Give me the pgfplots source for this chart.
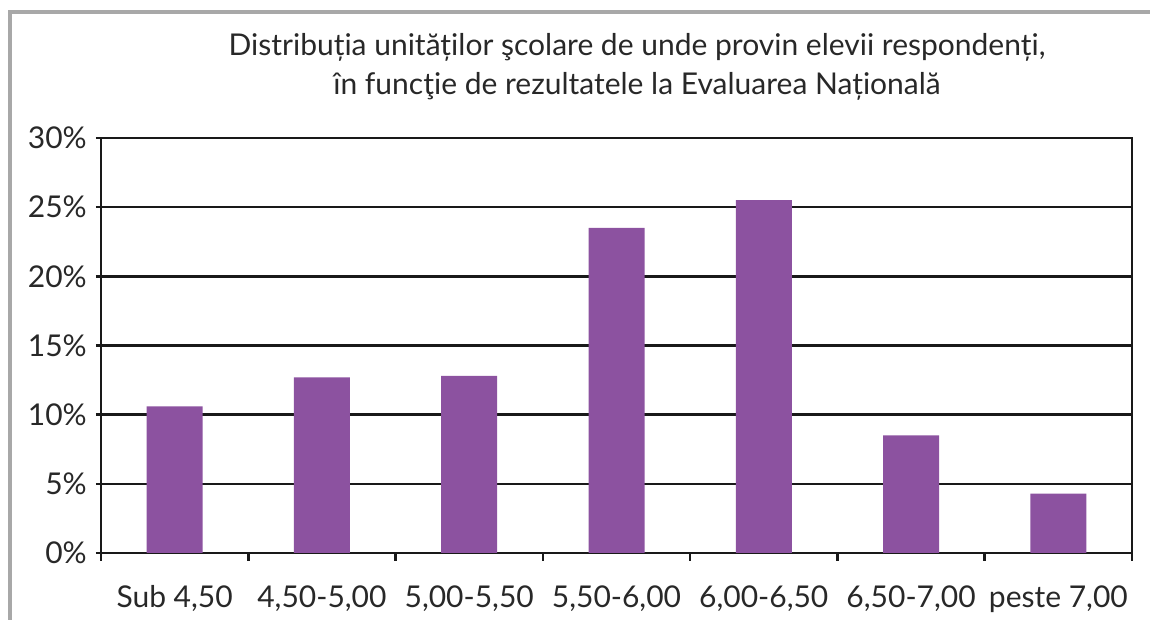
\documentclass[border=0pt]{standalone}
\usepackage{pgfplots}
\pgfplotsset{compat=1.18}
\usepackage{fontspec}
\setmainfont{Lato}
\definecolor{barpurple}{RGB}{140,82,160}
\definecolor{txt}{RGB}{40,40,40}
\definecolor{frame}{RGB}{168,168,168}
\begin{document}
\begin{tikzpicture}
\useasboundingbox (0pt,0pt) rectangle (575pt,310pt);
\draw[frame,line width=1.6pt] (5pt,0pt) -- (5pt,304pt) -- (575pt,304pt);
\node[txt,font=\fontsize{15}{18}\selectfont,anchor=base] at (318.5pt,282pt) {Distribuția unităților şcolare de unde provin elevii respondenți,};
\node[txt,font=\fontsize{15}{18}\selectfont,anchor=base] at (318.5pt,262.5pt) {în funcţie de rezultatele la Evaluarea Națională};
\begin{axis}[
  at={(50.5pt,33.5pt)}, anchor=south west,
  scale only axis, width=515.5pt, height=207.5pt,
  xmin=-0.5, xmax=6.5, ymin=0, ymax=30,
  ybar, bar width=28pt,
  xtick={0,...,6},
  xticklabels={{Sub 4,50}, {4,50-5,00}, {5,00-5,50}, {5,50-6,00}, {6,00-6,50}, {6,50-7,00}, {peste 7,00}},
  major x tick style={draw=none},
  minor xtick={-0.5,0.5,...,6.5},
  minor tick length=4pt,
  xtick pos=lower, ytick pos=left,
  tick align=outside,
  ytick={0,5,...,30},
  yticklabel={\pgfmathprintnumber{\tick}\%},
  /pgf/number format/assume math mode=true,
  major tick length=2.6pt,
  ymajorgrids,
  grid style={draw=black!90, line width=1.2pt},
  axis line style={draw=black!90, line width=1.3pt},
  every tick/.style={draw=black!90, line width=1.3pt},
  tick label style={txt, font=\fontsize{15}{17}\selectfont},
  xticklabel style={text height=11pt, text depth=3pt, yshift=-10pt},
  yticklabel style={xshift=-1pt},
]
\addplot[fill=barpurple, draw=none] coordinates {(0,10.6) (1,12.7) (2,12.8) (3,23.5) (4,25.5) (5,8.5) (6,4.3)};
\end{axis}
\end{tikzpicture}
\end{document}
